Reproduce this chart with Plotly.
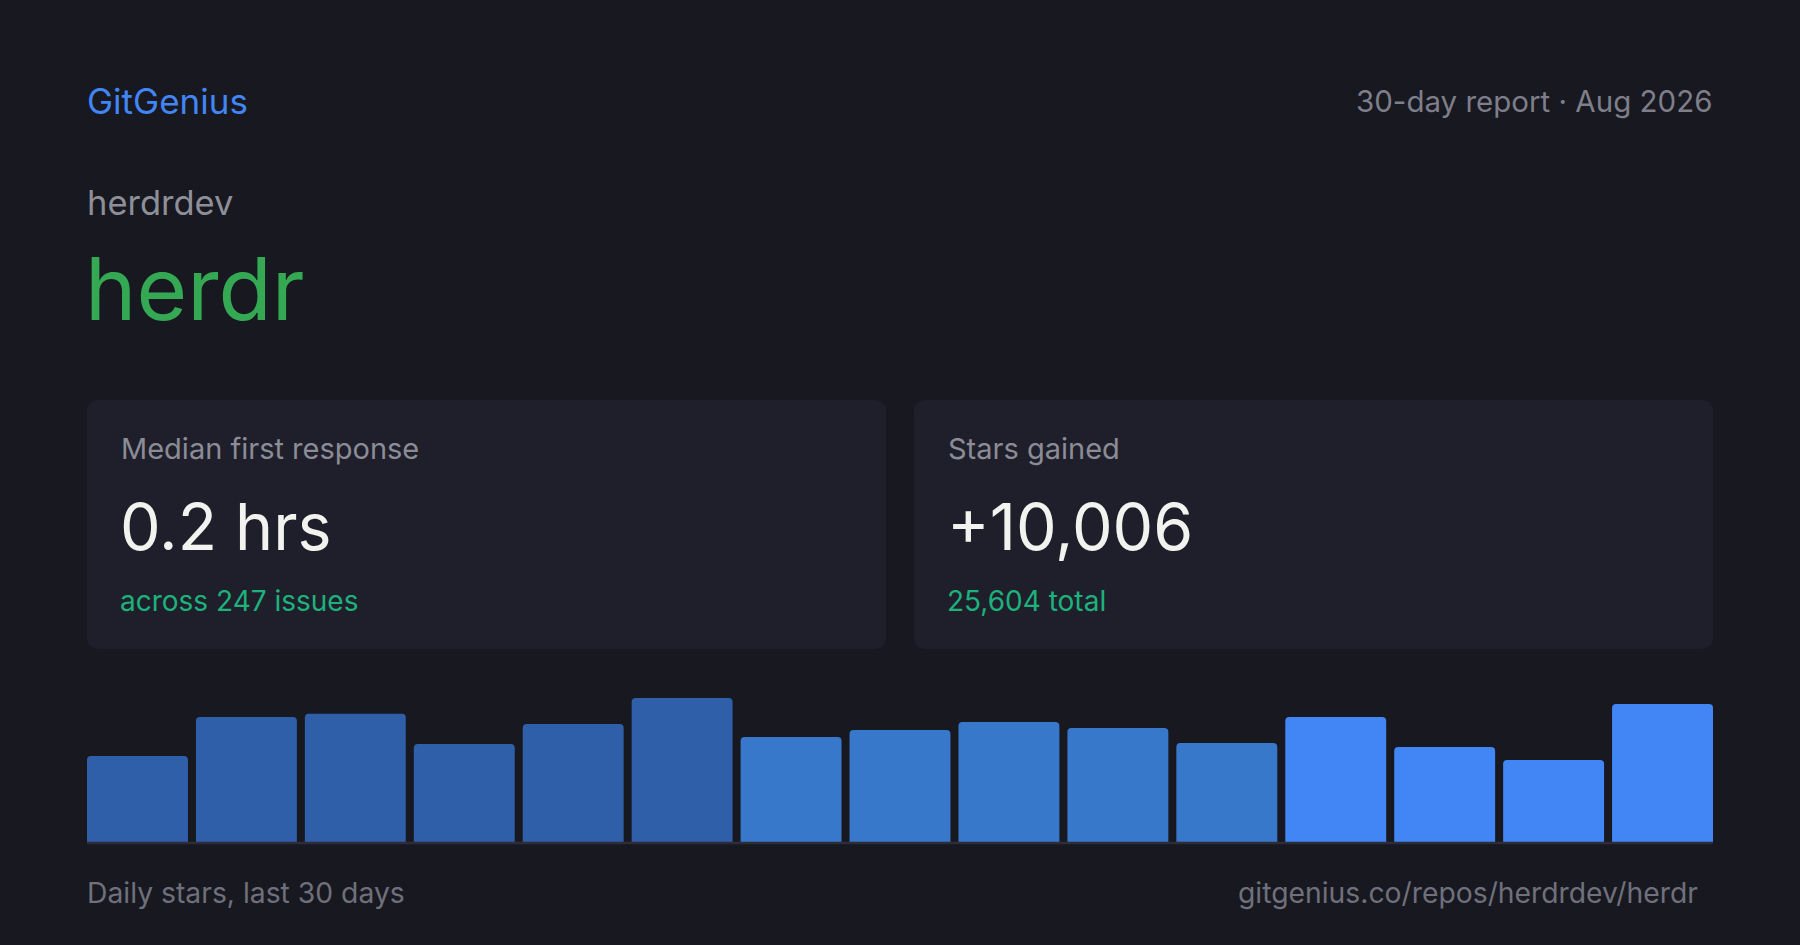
import plotly.graph_objects as go

W, H = 1800, 945

# ---- data ----
bar_days = [f"d{i}" for i in range(1, 16)]
daily_stars = [509, 740, 760, 580, 699, 853, 622, 663, 711, 675, 586, 740, 563, 486, 817]
bar_colors = ["#2f5fa8"] * 6 + ["#3778cb"] * 5 + ["#4285f4"] * 4

brand = "GitGenius"
report_label = "30-day report · Aug 2026"
owner = "herdrdev"
repo = "herdr"
card_titles = ["Median first response", "Stars gained"]
card_values = ["0.2 hrs", "+10,006"]
card_subs = ["across 247 issues", "25,604 total"]
footer_left = "Daily stars, last 30 days"
footer_right = "gitgenius.co/repos/herdrdev/herdr"

BG = "#171820"
CARD = "#1f1f2b"
FONT = "Inter, 'Noto Sans', sans-serif"


def px_x(x):
    return x / W


def px_y(y):
    return 1 - y / H


def rounded_rect(x0, y0, x1, y1, r):
    # pixel coordinates (y down) -> paper path
    X = lambda v: f"{px_x(v):.6f}"
    Y = lambda v: f"{px_y(v):.6f}"
    return (
        f"M {X(x0 + r)},{Y(y0)} L {X(x1 - r)},{Y(y0)} Q {X(x1)},{Y(y0)} {X(x1)},{Y(y0 + r)} "
        f"L {X(x1)},{Y(y1 - r)} Q {X(x1)},{Y(y1)} {X(x1 - r)},{Y(y1)} "
        f"L {X(x0 + r)},{Y(y1)} Q {X(x0)},{Y(y1)} {X(x0)},{Y(y1 - r)} "
        f"L {X(x0)},{Y(y0 + r)} Q {X(x0)},{Y(y0)} {X(x0 + r)},{Y(y0)} Z"
    )


fig = go.Figure()
fig.add_trace(
    go.Bar(
        x=bar_days,
        y=daily_stars,
        marker=dict(color=bar_colors, line=dict(width=0)),
        hoverinfo="skip",
    )
)

plot_left, plot_right = 83, 1717
base_y, top_y = 842, 698

fig.update_layout(
    width=W,
    height=H,
    margin=dict(l=0, r=0, t=0, b=0),
    paper_bgcolor=BG,
    plot_bgcolor=BG,
    showlegend=False,
    bargap=0.0734,
    barcornerradius=4,
    font=dict(family=FONT),
    xaxis=dict(
        domain=[px_x(plot_left), px_x(plot_right)],
        visible=False,
        fixedrange=True,
    ),
    yaxis=dict(
        domain=[px_y(base_y), px_y(top_y)],
        range=[0, max(daily_stars)],
        visible=False,
        fixedrange=True,
    ),
)

shapes = []
cards_x = [(87, 886), (914, 1713)]
for (cx0, cx1) in cards_x:
    shapes.append(
        dict(
            type="path",
            path=rounded_rect(cx0, 400, cx1, 649, 12),
            xref="paper",
            yref="paper",
            fillcolor=CARD,
            line=dict(width=0),
            layer="below",
        )
    )
shapes.append(
    dict(
        type="line",
        xref="paper",
        yref="paper",
        x0=px_x(87),
        x1=px_x(1713),
        y0=px_y(843),
        y1=px_y(843),
        line=dict(color="#2c2d39", width=2.5),
    )
)
fig.update_layout(shapes=shapes)


def txt(text, x, y, size, color, anchor="left"):
    fig.add_annotation(
        text=text,
        x=px_x(x),
        y=px_y(y),
        xref="paper",
        yref="paper",
        xanchor=anchor,
        yanchor="middle",
        showarrow=False,
        font=dict(family=FONT, size=size, color=color),
        borderpad=0,
    )


txt(brand, 86, 101, 35, "#4285f4")
txt(report_label, 1713, 101, 29.5, "#7e7f8a", "right")
txt(owner, 86, 203, 34.5, "#8e8f98")
txt(repo, 84, 289, 87, "#34a853")

for i, (cx0, cx1) in enumerate(cards_x):
    tx = cx0 + 33
    txt(card_titles[i], tx, 449, 29, "#8b8c96")
    txt(card_values[i], tx - 1, 527, 64.5, "#f2f2ee")
    txt(card_subs[i], tx - 1, 601, 28, "#1db27c")

txt(footer_left, 86, 893, 28.3, "#6f707b")
txt(footer_right, 1699, 893, 28.3, "#6f707b", "right")

fig.write_html(
    "out.html",
    config={"displayModeBar": False, "staticPlot": True},
    post_script="document.body.style.margin='0';document.body.style.background='" + BG + "';",
)
